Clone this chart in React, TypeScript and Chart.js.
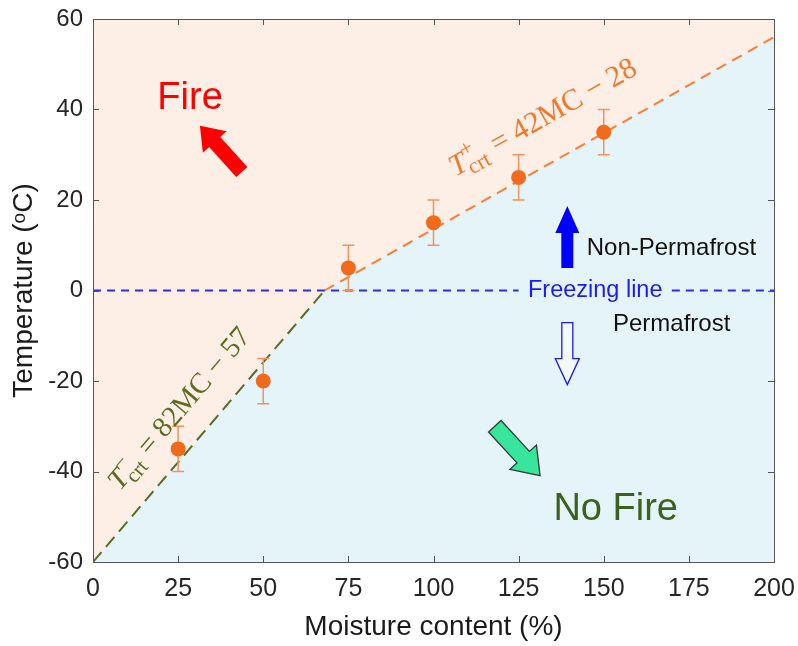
import React, { useEffect, useRef } from 'react';
import { Chart, registerables } from 'chart.js';

Chart.register(...registerables);

// ---- data ----
const moisture = [25, 50, 75, 100, 125, 150];
const temperature = [-35, -20, 5, 15, 25, 35];
const errorMinus = [5, 5, 5, 5, 5, 5];
const errorPlus = [5, 5, 5, 5, 5, 5];

// T-crt line (lower moisture branch) and T+crt line (upper branch)
const lowerLineMC = [0, 68];
const lowerLineT = [-60, 0];
const upperLineMC = [68, 200];
const upperLineT = [0, 56];

// freezing line (0 °C) pieces, with a gap for its label
const freezeLeftMC = [0, 125];
const freezeRightMC = [170, 200];
const freezeT = [0, 0];

const xTickValues = [0, 25, 50, 75, 100, 125, 150, 175, 200];
const yTickValues = [-60, -40, -20, 0, 20, 40, 60];

const xTitle = 'Moisture content (%)';
const yTitle = 'Temperature (\u1D52C)';

const SANS = '"Liberation Sans", Arial, sans-serif';
const SERIF = '"Liberation Serif", "DejaVu Serif", serif';

const PEACH = '#fdeee6';
const LIGHTBLUE = '#e5f4f8';

const toPts = (xs: number[], ys: number[]) => xs.map((x, i) => ({ x, y: ys[i] }));

// annotation anchors in data units
const fireText = { mc: 28.5, t: 42.5 };
const noFireText = { mc: 153.5, t: -48.5 };
const freezeText = { mc: 147.5, t: 0 };
const nonPermaText = { mc: 145.0, t: 9.2 };
const permaText = { mc: 152.7, t: -7.4 };
const plusEq = { mc: 132.0, t: 38.4 };
const minusEq = { mc: 25.2, t: -26.0 };
const redArrow = { tail: { mc: 43.7, t: 26.2 }, tip: { mc: 31.4, t: 36.4 } };
const blueUpArrow = { tail: { mc: 139.3, t: 5.0 }, tip: { mc: 139.3, t: 18.7 } };
const blueDownArrow = { tail: { mc: 139.3, t: -7.1 }, tip: { mc: 139.3, t: -20.8 } };
const greenArrow = { tail: { mc: 118.0, t: -30.0 }, tip: { mc: 131.3, t: -40.9 } };

function arrowPath(ctx: CanvasRenderingContext2D, x0: number, y0: number, x1: number, y1: number, bodyW: number, headW: number, headL: number) {
  const dx = x1 - x0, dy = y1 - y0;
  const L = Math.hypot(dx, dy);
  const ux = dx / L, uy = dy / L;
  const vx = -uy, vy = ux;
  const p = (a: number, b: number) => [x0 + ux * a + vx * b, y0 + uy * a + vy * b];
  const pts = [
    p(0, bodyW / 2), p(L - headL, bodyW / 2), p(L - headL, headW / 2), p(L, 0),
    p(L - headL, -headW / 2), p(L - headL, -bodyW / 2), p(0, -bodyW / 2),
  ];
  ctx.beginPath();
  ctx.moveTo(pts[0][0], pts[0][1]);
  for (let i = 1; i < pts.length; i++) ctx.lineTo(pts[i][0], pts[i][1]);
  ctx.closePath();
}

function drawEquation(ctx: CanvasRenderingContext2D, cx: number, cy: number, angle: number, sup: string, rest: string, color: string, size: number) {
  ctx.save();
  ctx.translate(cx, cy);
  ctx.rotate(angle);
  ctx.fillStyle = color;
  ctx.textBaseline = 'alphabetic';
  ctx.textAlign = 'left';
  const fT = `italic ${size}px ${SERIF}`;
  const fS = `${Math.round(size * 0.72)}px ${SERIF}`;
  const fM = `${size}px ${SERIF}`;
  ctx.font = fT; const wT = ctx.measureText('T').width;
  ctx.font = fS; const wSup = ctx.measureText(sup).width; const wSub = ctx.measureText('crt').width;
  ctx.font = fM; const wR = ctx.measureText(rest).width;
  const total = wT + Math.max(wSup, wSub) + wR;
  let x = -total / 2;
  const base = size * 0.32;
  ctx.font = fT; ctx.fillText('T', x, base); x += wT - 1;
  ctx.font = fS;
  ctx.fillText(sup, x + 1, base - size * 0.42);
  ctx.fillText('crt', x, base + size * 0.22);
  x += Math.max(wSup, wSub) + 1;
  ctx.font = fM; ctx.fillText(rest, x, base);
  ctx.restore();
}

const overlayPlugin = {
  id: 'overlay',
  beforeDatasetDraw(chart: any, args: any) {
    if (args.index !== 0) return;
    const { ctx, scales: { x, y } } = chart;
    ctx.save();
    ctx.strokeStyle = '#f3925f';
    ctx.lineWidth = 1.5;
    moisture.forEach((m, i) => {
      const px = x.getPixelForValue(m);
      const top = y.getPixelForValue(temperature[i] + errorPlus[i]);
      const bot = y.getPixelForValue(temperature[i] - errorMinus[i]);
      ctx.beginPath();
      ctx.moveTo(px, top); ctx.lineTo(px, bot);
      ctx.moveTo(px - 6, top); ctx.lineTo(px + 6, top);
      ctx.moveTo(px - 6, bot); ctx.lineTo(px + 6, bot);
      ctx.stroke();
    });
    ctx.restore();
  },
  afterDatasetsDraw(chart: any) {
    const { ctx, scales: { x, y } } = chart;
    const P = (a: { mc: number; t: number }) => [x.getPixelForValue(a.mc), y.getPixelForValue(a.t)];
    ctx.save();
    // texts
    ctx.textAlign = 'center';
    ctx.textBaseline = 'middle';
    let [px, py] = P(fireText);
    ctx.font = `38px ${SANS}`; ctx.fillStyle = '#ff0000'; ctx.fillText('Fire', px, py);
    [px, py] = P(noFireText);
    ctx.font = `38px ${SANS}`; ctx.fillStyle = '#3d5f1f'; ctx.fillText('No Fire', px, py);
    [px, py] = P(freezeText);
    ctx.font = `23.5px ${SANS}`; ctx.fillStyle = '#1a1aff'; ctx.fillText('Freezing line', px, py);
    ctx.textAlign = 'left';
    ctx.fillStyle = '#111111';
    ctx.font = `24px ${SANS}`;
    [px, py] = P(nonPermaText); ctx.fillText('Non-Permafrost', px, py);
    [px, py] = P(permaText); ctx.fillText('Permafrost', px, py);

    // equations, rotated along their lines
    const u0 = P({ mc: upperLineMC[0], t: upperLineT[0] });
    const u1 = P({ mc: upperLineMC[1], t: upperLineT[1] });
    const l0 = P({ mc: lowerLineMC[0], t: lowerLineT[0] });
    const l1 = P({ mc: lowerLineMC[1], t: lowerLineT[1] });
    const aU = Math.atan2(u1[1] - u0[1], u1[0] - u0[0]);
    const aL = Math.atan2(l1[1] - l0[1], l1[0] - l0[0]);
    [px, py] = P(plusEq);
    drawEquation(ctx, px, py, aU, '+', ' = 42MC \u2212 28', '#f4772e', 30);
    [px, py] = P(minusEq);
    drawEquation(ctx, px, py, aL, '\u2212', ' = 82MC \u2212 57', '#5f6b22', 29);

    // arrows
    let a = P(redArrow.tail), b = P(redArrow.tip);
    arrowPath(ctx, a[0], a[1], b[0], b[1], 15, 32, 22);
    ctx.fillStyle = '#ff0000'; ctx.fill();

    a = P(blueUpArrow.tail); b = P(blueUpArrow.tip);
    arrowPath(ctx, a[0], a[1], b[0], b[1], 12, 24, 27);
    ctx.fillStyle = '#0000ff'; ctx.fill();

    a = P(blueDownArrow.tail); b = P(blueDownArrow.tip);
    arrowPath(ctx, a[0], a[1], b[0], b[1], 11, 24, 26);
    ctx.fillStyle = '#f3fafc'; ctx.fill();
    ctx.strokeStyle = '#1a1aff'; ctx.lineWidth = 1.3; ctx.stroke();

    a = P(greenArrow.tail); b = P(greenArrow.tip);
    arrowPath(ctx, a[0], a[1], b[0], b[1], 17, 36, 25);
    ctx.fillStyle = '#37e69c'; ctx.fill();
    ctx.strokeStyle = '#2e3a33'; ctx.lineWidth = 1.3; ctx.stroke();
    ctx.restore();
  },
  afterDraw(chart: any) {
    const { ctx, chartArea: ca, scales: { x, y } } = chart;
    ctx.save();
    ctx.strokeStyle = '#555555';
    ctx.lineWidth = 1;
    ctx.strokeRect(Math.round(ca.left) + 0.5, Math.round(ca.top) + 0.5, Math.round(ca.right - ca.left), Math.round(ca.bottom - ca.top));
    const tl = 6;
    ctx.beginPath();
    xTickValues.forEach((v) => {
      const px = Math.round(x.getPixelForValue(v)) + 0.5;
      ctx.moveTo(px, ca.bottom); ctx.lineTo(px, ca.bottom - tl);
      ctx.moveTo(px, ca.top); ctx.lineTo(px, ca.top + tl);
    });
    yTickValues.forEach((v) => {
      const py = Math.round(y.getPixelForValue(v)) + 0.5;
      ctx.moveTo(ca.left, py); ctx.lineTo(ca.left + tl, py);
      ctx.moveTo(ca.right, py); ctx.lineTo(ca.right - tl, py);
    });
    ctx.stroke();
    ctx.restore();
  },
};

export default function App() {
  const ref = useRef<HTMLCanvasElement | null>(null);
  useEffect(() => {
    if (!ref.current) return;
    const boundary = [...toPts(lowerLineMC, lowerLineT), ...toPts(upperLineMC, upperLineT).slice(1)];
    const chart = new Chart(ref.current, {
      type: 'scatter',
      data: {
        datasets: [
          {
            type: 'scatter',
            data: toPts(moisture, temperature),
            backgroundColor: '#f26a1b',
            borderWidth: 0,
            pointRadius: 7.5,
            order: 0,
          } as any,
          {
            type: 'line',
            data: toPts(upperLineMC, upperLineT),
            borderColor: '#ff7b38',
            borderWidth: 2,
            borderDash: [11, 7],
            pointRadius: 0,
            fill: false,
            order: 1,
          },
          {
            type: 'line',
            data: toPts(lowerLineMC, lowerLineT),
            borderColor: '#5e6a2a',
            borderWidth: 2,
            borderDash: [13, 7],
            pointRadius: 0,
            fill: false,
            order: 1,
          },
          {
            type: 'line',
            data: toPts(freezeLeftMC, freezeT),
            borderColor: '#2a2aff',
            borderWidth: 2,
            borderDash: [8, 6],
            pointRadius: 0,
            fill: false,
            order: 1,
          },
          {
            type: 'line',
            data: toPts(freezeRightMC, freezeT),
            borderColor: '#2a2aff',
            borderWidth: 2,
            borderDash: [8, 6],
            pointRadius: 0,
            fill: false,
            order: 1,
          },
          {
            type: 'line',
            data: boundary,
            borderWidth: 0,
            borderColor: 'rgba(0,0,0,0)',
            backgroundColor: PEACH,
            pointRadius: 0,
            fill: 'end',
            order: 3,
          },
          {
            type: 'line',
            data: boundary,
            borderWidth: 0,
            borderColor: 'rgba(0,0,0,0)',
            backgroundColor: LIGHTBLUE,
            pointRadius: 0,
            fill: 'start',
            order: 3,
          },
        ],
      },
      options: {
        responsive: false,
        animation: false,
        events: [],
        layout: { padding: { left: 0, top: 19, right: 24, bottom: 0 } },
        plugins: { legend: { display: false }, tooltip: { enabled: false } },
        scales: {
          x: {
            type: 'linear',
            min: 0,
            max: 200,
            afterBuildTicks: (s: any) => { s.ticks = xTickValues.map((v) => ({ value: v })); },
            afterFit: (s: any) => { s.height = 84; s.paddingLeft = 0; s.paddingRight = 0; },
            grid: { display: false, drawTicks: false },
            border: { display: false },
            ticks: { color: '#262626', font: { family: SANS, size: 25 }, padding: 12, maxRotation: 0, autoSkip: false },
            title: { display: true, text: xTitle, color: '#1a1a1a', font: { family: SANS, size: 28 }, padding: { top: 0, bottom: 2 } },
          },
          y: {
            type: 'linear',
            min: -60,
            max: 60,
            afterBuildTicks: (s: any) => { s.ticks = yTickValues.map((v) => ({ value: v })); },
            afterFit: (s: any) => { s.width = 93; s.paddingTop = 0; s.paddingBottom = 0; },
            grid: { display: false, drawTicks: false },
            border: { display: false },
            ticks: { color: '#262626', font: { family: SANS, size: 24 }, padding: 10, autoSkip: false },
            title: { display: true, text: yTitle, color: '#1a1a1a', font: { family: SANS, size: 28 }, padding: { top: 7, bottom: 0 } },
          },
        },
      },
      plugins: [overlayPlugin],
    });
    return () => chart.destroy();
  }, []);
  return (
    <div style={{ position: 'fixed', left: 0, top: 0, width: 798, height: 646, background: '#ffffff' }}>
      <canvas ref={ref} width={798} height={646} style={{ display: 'block' }} />
    </div>
  );
}
